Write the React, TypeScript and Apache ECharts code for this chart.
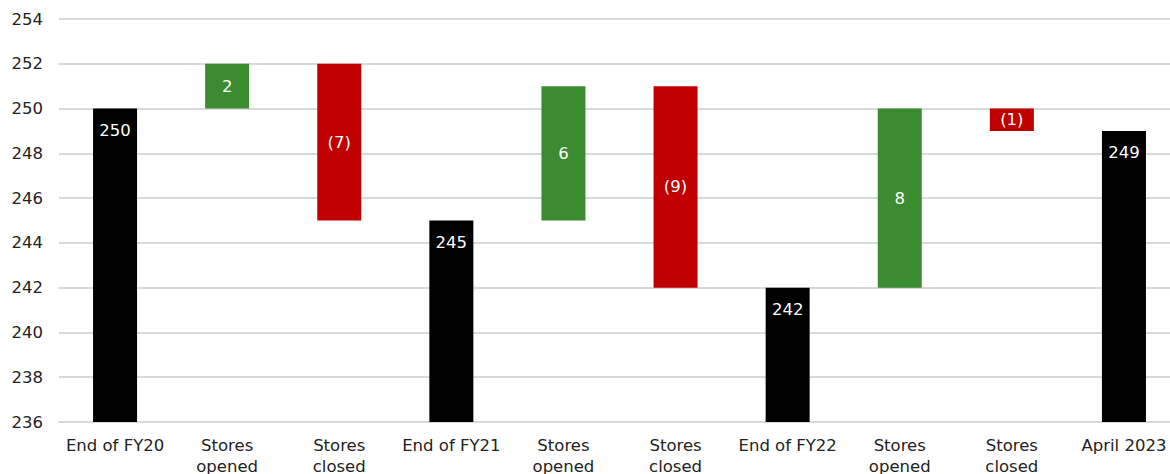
import React, { useEffect, useRef } from "react";
import * as echarts from "echarts";

const categories = [
  "End of FY20",
  "Stores\nopened",
  "Stores\nclosed",
  "End of FY21",
  "Stores\nopened",
  "Stores\nclosed",
  "End of FY22",
  "Stores\nopened",
  "Stores\nclosed",
  "April 2023",
];
const values = [250, 2, -7, 245, 6, -9, 242, 8, -1, 249];
const kinds = ["total", "up", "down", "total", "up", "down", "total", "up", "down", "total"];
const yTicks = { min: 236, max: 254, interval: 2 };

const COLORS: Record<string, string> = { total: "#000000", up: "#3B8B30", down: "#C00000" };

export default function App() {
  const ref = useRef<HTMLDivElement>(null);
  useEffect(() => {
    document.body.style.margin = "0";
    if (!ref.current) return;
    const chart = echarts.init(ref.current, null, { renderer: "svg" });

    let running = 0;
    const base: (number | string)[] = [];
    const vis: any[] = [];
    values.forEach((v, i) => {
      const k = kinds[i];
      if (k === "total") {
        running = v;
        base.push("-");
        vis.push({
          value: v,
          itemStyle: { color: COLORS.total },
          label: { position: "insideTop", distance: 13 },
        });
      } else {
        const low = v >= 0 ? running : running + v;
        base.push(low);
        vis.push({ value: Math.abs(v), itemStyle: { color: COLORS[k] }, label: { position: "inside" } });
        running += v;
      }
    });

    chart.setOption({
      animation: false,
      textStyle: { fontFamily: "DejaVu Sans" },
      grid: { left: 59, right: 0, top: 19, bottom: 52, containLabel: false, outerBoundsMode: "none" },
      xAxis: {
        type: "category",
        data: categories,
        axisLine: { show: true, lineStyle: { color: "#d9d9d9", width: 2 } },
        axisTick: { show: false },
        axisLabel: {
          fontSize: 16.5,
          color: "#222",
          lineHeight: 21,
          margin: 13,
          interval: 0,
          fontFamily: "DejaVu Sans",
        },
      },
      yAxis: {
        type: "value",
        min: yTicks.min,
        max: yTicks.max,
        interval: yTicks.interval,
        axisLine: { show: false },
        axisTick: { show: false },
        splitLine: { lineStyle: { color: "#d9d9d9", width: 2 } },
        axisLabel: { fontSize: 16.5, color: "#222", margin: 16, fontFamily: "DejaVu Sans" },
      },
      series: [
        {
          type: "bar",
          stack: "w",
          data: base,
          barWidth: 44,
          itemStyle: { color: "transparent" },
          emphasis: { disabled: true },
          silent: true,
        },
        {
          type: "bar",
          stack: "w",
          data: vis,
          barWidth: 44,
          label: {
            show: true,
            color: "#fff",
            fontSize: 16.5,
            fontFamily: "DejaVu Sans",
            formatter: (p: any) => {
              const raw = values[p.dataIndex];
              return raw < 0 ? `(${-raw})` : `${raw}`;
            },
          },
        },
      ],
    });
    return () => chart.dispose();
  }, []);
  return (
    <div style={{ width: 1170, height: 474, overflow: "hidden", position: "relative" }}>
      <div ref={ref} style={{ width: 1180, height: 474 }} />
    </div>
  );
}
